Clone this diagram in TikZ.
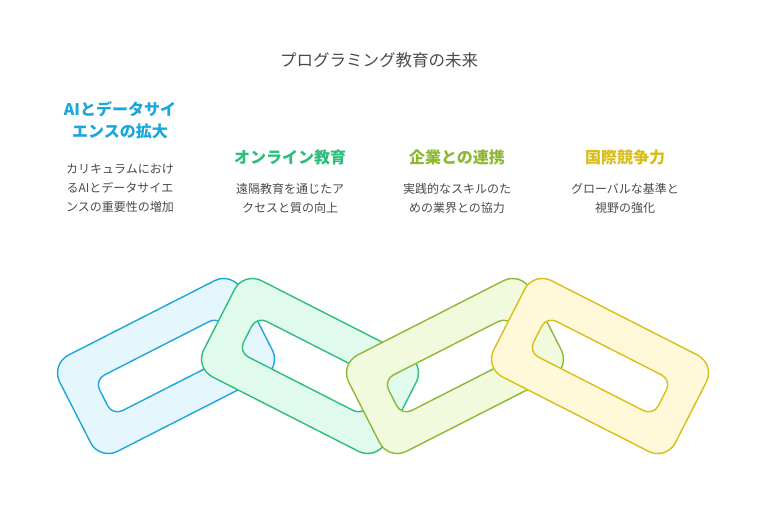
\documentclass[tikz,border=0pt]{standalone}
\usepackage{fontspec}
\setmainfont{Noto Sans CJK JP}
\definecolor{cA}{HTML}{1AA7D9}
\definecolor{fA}{HTML}{E6F6FD}
\definecolor{cB}{HTML}{2DBE7A}
\definecolor{fB}{HTML}{E0FAEE}
\definecolor{cC}{HTML}{8DB832}
\definecolor{fC}{HTML}{F1FADC}
\definecolor{cD}{HTML}{D9BE1A}
\definecolor{fD}{HTML}{FFF9D9}
\definecolor{txt}{HTML}{4A4A4A}
\tikzset{
  head/.style={font=\bfseries\fontsize{16}{22}\selectfont, align=center},
  desc/.style={text=txt, font=\fontsize{12}{19}\selectfont, align=center},
}
% one link of the chain: centre, angle, stroke colour, fill colour
\newcommand{\chainlink}[4]{
  \begin{scope}[shift={#1}, rotate=#2]
    \draw[#3, line width=1.4pt, fill=#4, even odd rule, rounded corners=20pt]
      (-102,-54) rectangle (102,54)
      [rounded corners=11pt] (-70,-20) rectangle (70,20);
  \end{scope}
}
\begin{document}
\begin{tikzpicture}[x=1pt, y=-1pt]
    \useasboundingbox (0,0) rectangle (758,530);

    \node [text=txt, font=\fontsize{16.5}{20}\selectfont] (title) at (379,60) {プログラミング教育の未来};

    \node [head, text=cA] (h1) at (120,120) {AIとデータサイ\\エンスの拡大};
    \node [head, text=cB] (h2) at (290,157) {オンライン教育};
    \node [head, text=cC] (h3) at (457,157) {企業との連携};
    \node [head, text=cD] (h4) at (625,157) {国際競争力};

    \node [desc] (d1) at (120,188) {カリキュラムにおけ\\るAIとデータサイエ\\ンスの重要性の増加};
    \node [desc] (d2) at (290,198) {遠隔教育を通じたア\\クセスと質の向上};
    \node [desc] (d3) at (457,198) {実践的なスキルのた\\めの業界との協力};
    \node [desc] (d4) at (625,198) {グローバルな基準と\\視野の強化};

    \chainlink{(166,366)}{27}{cA}{fA}
    \chainlink{(310,366)}{-27}{cB}{fB}
    \chainlink{(455,366)}{27}{cC}{fC}
    \chainlink{(600,366)}{-27}{cD}{fD}

\end{tikzpicture}
\end{document}
